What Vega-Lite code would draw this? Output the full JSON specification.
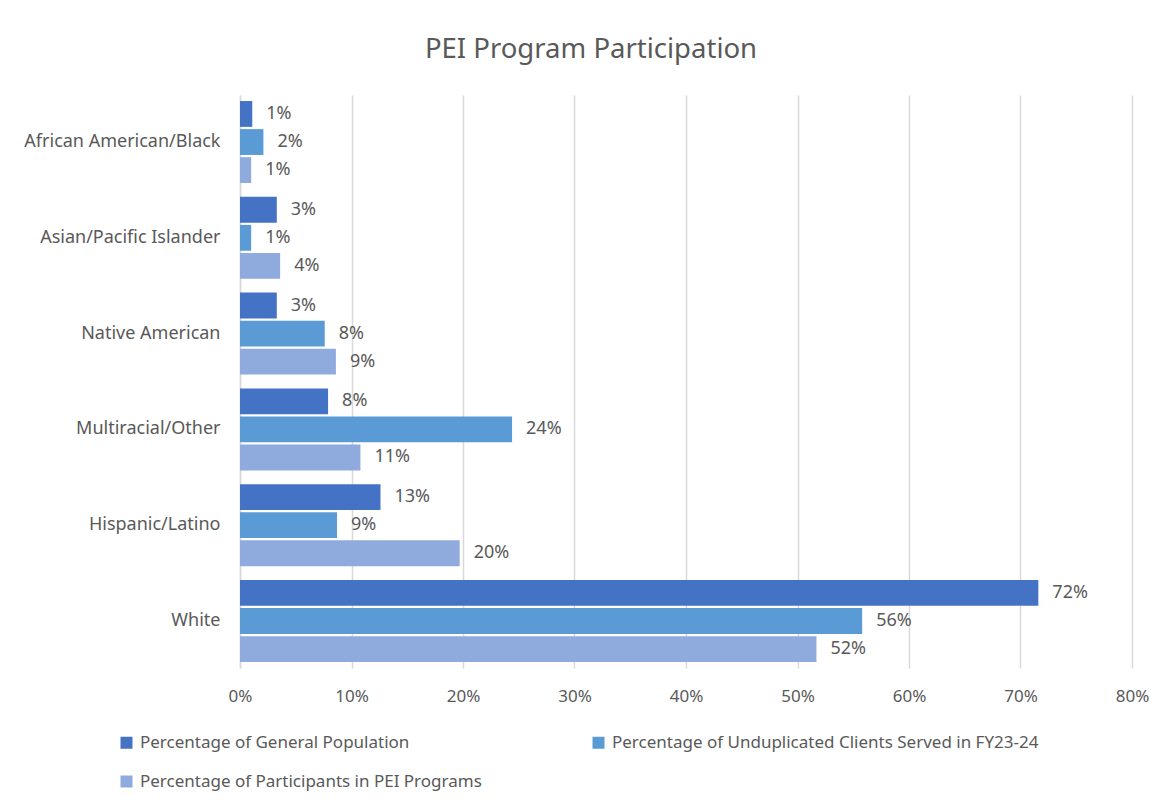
{
  "$schema": "https://vega.github.io/schema/vega-lite/v6.json",
  "width": 892,
  "height": 573,
  "autosize": {"type": "none"},
  "padding": {"left": 240, "top": 95, "right": 35, "bottom": 142},
  "background": "white",
  "title": {
    "text": "PEI Program Participation",
    "fontSize": 27.5,
    "font": "Noto Sans",
    "fontWeight": "normal",
    "color": "#595959",
    "anchor": "middle",
    "dx": -95,
    "offset": 32
  },
  "config": {
    "font": "Noto Sans",
    "view": {"stroke": null}
  },
  "data": {
    "values": [
      {"group": "African American/Black", "series": "Percentage of General Population", "value": 0.011},
      {"group": "African American/Black", "series": "Percentage of Unduplicated Clients Served in FY23-24", "value": 0.021},
      {"group": "African American/Black", "series": "Percentage of Participants in PEI Programs", "value": 0.010},
      {"group": "Asian/Pacific Islander", "series": "Percentage of General Population", "value": 0.033},
      {"group": "Asian/Pacific Islander", "series": "Percentage of Unduplicated Clients Served in FY23-24", "value": 0.010},
      {"group": "Asian/Pacific Islander", "series": "Percentage of Participants in PEI Programs", "value": 0.036},
      {"group": "Native American", "series": "Percentage of General Population", "value": 0.033},
      {"group": "Native American", "series": "Percentage of Unduplicated Clients Served in FY23-24", "value": 0.076},
      {"group": "Native American", "series": "Percentage of Participants in PEI Programs", "value": 0.086},
      {"group": "Multiracial/Other", "series": "Percentage of General Population", "value": 0.079},
      {"group": "Multiracial/Other", "series": "Percentage of Unduplicated Clients Served in FY23-24", "value": 0.244},
      {"group": "Multiracial/Other", "series": "Percentage of Participants in PEI Programs", "value": 0.108},
      {"group": "Hispanic/Latino", "series": "Percentage of General Population", "value": 0.126},
      {"group": "Hispanic/Latino", "series": "Percentage of Unduplicated Clients Served in FY23-24", "value": 0.087},
      {"group": "Hispanic/Latino", "series": "Percentage of Participants in PEI Programs", "value": 0.197},
      {"group": "White", "series": "Percentage of General Population", "value": 0.716},
      {"group": "White", "series": "Percentage of Unduplicated Clients Served in FY23-24", "value": 0.558},
      {"group": "White", "series": "Percentage of Participants in PEI Programs", "value": 0.517}
    ]
  },
  "encoding": {
    "y": {
      "field": "group",
      "type": "nominal",
      "sort": null,
      "scale": {"paddingInner": 0.144, "paddingOuter": 0.063},
      "axis": {
        "title": null,
        "ticks": false,
        "domain": true,
        "domainColor": "#D9D9D9",
        "domainWidth": 1.5,
        "labelFontSize": 18,
        "labelColor": "#595959",
        "labelPadding": 20,
        "labelLimit": 300
      }
    },
    "x": {
      "field": "value",
      "type": "quantitative",
      "scale": {"domain": [0, 0.8], "nice": false},
      "axis": {
        "title": null,
        "format": ".0%",
        "values": [0, 0.1, 0.2, 0.3, 0.4, 0.5, 0.6, 0.7, 0.8],
        "grid": true,
        "gridColor": "#D9D9D9",
        "gridWidth": 1.5,
        "domain": false,
        "ticks": false,
        "labelFlush": false,
        "labelFontSize": 17,
        "labelColor": "#595959",
        "labelPadding": 20
      }
    },
    "yOffset": {
      "field": "series",
      "type": "nominal",
      "sort": null,
      "scale": {"paddingInner": 0.08, "domain": ["Percentage of General Population", "Percentage of Unduplicated Clients Served in FY23-24", "Percentage of Participants in PEI Programs"]}
    }
  },
  "layer": [
    {
      "mark": {"type": "bar"},
      "encoding": {
        "color": {
          "field": "series",
          "type": "nominal",
          "sort": null,
          "scale": {
            "domain": ["Percentage of General Population", "Percentage of Unduplicated Clients Served in FY23-24", "Percentage of Participants in PEI Programs"],
            "range": ["#4472C4", "#5B9BD5", "#8FAADC"]
          },
          "legend": {
            "title": null,
            "orient": "none",
            "legendX": -122,
            "legendY": 639,
            "direction": "horizontal",
            "columns": 2,
            "columnPadding": 108,
            "rowPadding": 21,
            "symbolType": "square",
            "symbolSize": 144,
            "symbolStrokeWidth": 0,
            "symbolOpacity": 1,
            "labelFontSize": 17,
            "labelColor": "#595959",
            "labelOffset": 5,
            "labelLimit": 600
          }
        }
      }
    },
    {
      "mark": {"type": "text", "align": "left", "baseline": "middle", "dx": 14, "fontSize": 18, "color": "#595959"},
      "encoding": {
        "text": {"field": "value", "type": "quantitative", "format": ".0%"}
      }
    }
  ]
}
